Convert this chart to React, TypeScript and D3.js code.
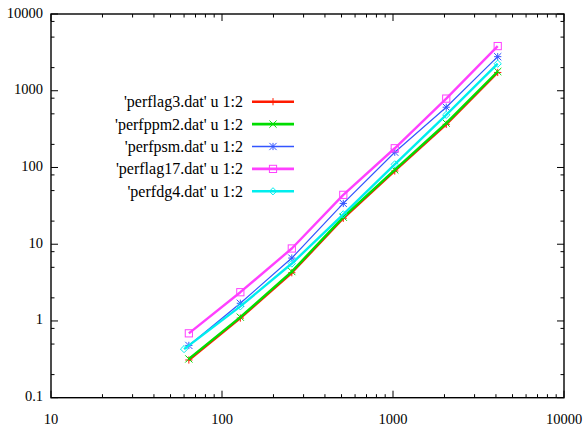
import React from "react";
import * as d3 from "d3";

const xValues = [64, 128, 256, 512, 1024, 2048, 4096];
const xValuesDg4 = [60, 128, 256, 512, 1024, 2048, 4096];
const perflag3 = [0.31, 1.09, 4.25, 21.8, 90, 365, 1730];
const perfppm2 = [0.32, 1.12, 4.4, 22.5, 93, 378, 1780];
const perfpsm = [0.48, 1.7, 6.6, 34, 158, 610, 2780];
const perflag17 = [0.69, 2.37, 8.8, 44, 178, 790, 3820];
const perfdg4 = [0.43, 1.55, 5.6, 24.5, 110, 485, 2250];

const seriesNames = [
  "'perflag3.dat' u 1:2",
  "'perfppm2.dat' u 1:2",
  "'perfpsm.dat' u 1:2",
  "'perflag17.dat' u 1:2",
  "'perfdg4.dat' u 1:2",
];

const xTickValues = [10, 100, 1000, 10000];
const yTickValues = [0.1, 1, 10, 100, 1000, 10000];
const xMinorMult = [2, 3, 4, 5, 6, 7, 8, 9];
const yMinorMult = [2, 5, 8];

type Series = {
  name: string;
  xs: number[];
  ys: number[];
  color: string;
  width: number;
  marker: string;
};

const series: Series[] = [
  { name: seriesNames[0], xs: xValues, ys: perflag3, color: "#ff1a00", width: 2.4, marker: "plus" },
  { name: seriesNames[1], xs: xValues, ys: perfppm2, color: "#00dd00", width: 2.4, marker: "cross" },
  { name: seriesNames[2], xs: xValues, ys: perfpsm, color: "#3355ff", width: 1.2, marker: "star" },
  { name: seriesNames[3], xs: xValues, ys: perflag17, color: "#ff40ff", width: 2.4, marker: "square" },
  { name: seriesNames[4], xs: xValuesDg4, ys: perfdg4, color: "#00eeee", width: 2.4, marker: "diamond" },
];

const W = 586;
const H = 425;
const left = 51;
const right = 564;
const top = 14;
const bottom = 397.7;

function Marker({ type, x, y, color }: { type: string; x: number; y: number; color: string }) {
  const s = 3.6;
  const sw = 1;
  if (type === "plus") {
    return (
      <g stroke={color} strokeWidth={sw}>
        <line x1={x - s} y1={y} x2={x + s} y2={y} />
        <line x1={x} y1={y - s} x2={x} y2={y + s} />
      </g>
    );
  }
  if (type === "cross") {
    return (
      <g stroke={color} strokeWidth={sw}>
        <line x1={x - s} y1={y - s} x2={x + s} y2={y + s} />
        <line x1={x - s} y1={y + s} x2={x + s} y2={y - s} />
      </g>
    );
  }
  if (type === "star") {
    return (
      <g stroke={color} strokeWidth={sw}>
        <line x1={x - s} y1={y} x2={x + s} y2={y} />
        <line x1={x} y1={y - s} x2={x} y2={y + s} />
        <line x1={x - s} y1={y - s} x2={x + s} y2={y + s} />
        <line x1={x - s} y1={y + s} x2={x + s} y2={y - s} />
      </g>
    );
  }
  if (type === "square") {
    return <rect x={x - s} y={y - s} width={2 * s} height={2 * s} fill="none" stroke={color} strokeWidth={sw} />;
  }
  return (
    <path
      d={`M${x - s},${y}L${x},${y - s}L${x + s},${y}L${x},${y + s}Z`}
      fill="none"
      stroke={color}
      strokeWidth={sw}
    />
  );
}

export default function App() {
  const x = d3.scaleLog().domain([10, 10000]).range([left, right]);
  const y = d3.scaleLog().domain([0.1, 10000]).range([bottom, top]);

  const xMinor: number[] = [];
  xTickValues.slice(0, -1).forEach((d) => xMinorMult.forEach((m) => xMinor.push(d * m)));
  const yMinor: number[] = [];
  yTickValues.slice(0, -1).forEach((d) => yMinorMult.forEach((m) => yMinor.push(d * m)));

  const line = d3
    .line<[number, number]>()
    .x((d) => x(d[0]))
    .y((d) => y(d[1]));

  const majorLen = 7;
  const minorLen = 3.5;
  const axisColor = "#000";
  const font = "Liberation Serif";

  const legendTextX = 243;
  const legendLineX1 = 252;
  const legendLineX2 = 294;
  const legendY0 = 101.7;
  const legendDy = 22.4;

  return (
    <div style={{ position: "absolute", left: 0, top: 0 }}>
      <svg width={W} height={H} style={{ display: "block", background: "#fff" }}>
        <rect x={0} y={0} width={W} height={H} fill="#fff" />
        {/* ticks */}
        <g stroke={axisColor} strokeWidth={1}>
          {xTickValues.map((v) => (
            <g key={"xt" + v}>
              <line x1={x(v)} x2={x(v)} y1={bottom} y2={bottom - majorLen} />
              <line x1={x(v)} x2={x(v)} y1={top} y2={top + majorLen} />
            </g>
          ))}
          {xMinor.map((v) => (
            <g key={"xm" + v}>
              <line x1={x(v)} x2={x(v)} y1={bottom} y2={bottom - minorLen} />
              <line x1={x(v)} x2={x(v)} y1={top} y2={top + minorLen} />
            </g>
          ))}
          {yTickValues.map((v) => (
            <g key={"yt" + v}>
              <line x1={left} x2={left + majorLen} y1={y(v)} y2={y(v)} />
              <line x1={right} x2={right - majorLen} y1={y(v)} y2={y(v)} />
            </g>
          ))}
          {yMinor.map((v) => (
            <g key={"ym" + v}>
              <line x1={left} x2={left + minorLen} y1={y(v)} y2={y(v)} />
              <line x1={right} x2={right - minorLen} y1={y(v)} y2={y(v)} />
            </g>
          ))}
        </g>
        <rect
          x={left}
          y={top}
          width={right - left}
          height={bottom - top}
          fill="none"
          stroke={axisColor}
          strokeWidth={1.4}
        />
        {/* tick labels */}
        <g style={{ fontFamily: font }} fontSize={14.5} fill="#000">
          {yTickValues.map((v) => (
            <text key={"yl" + v} x={43} y={y(v) - 1.5} textAnchor="end" dominantBaseline="central">
              {String(v)}
            </text>
          ))}
          {xTickValues.map((v) => (
            <text key={"xl" + v} x={x(v)} y={423.5} textAnchor="middle">
              {String(v)}
            </text>
          ))}
        </g>
        {/* series */}
        {series.map((s) => {
          const pts: [number, number][] = s.xs.map((xv, i) => [xv, s.ys[i]]);
          return (
            <g key={s.name}>
              <path d={line(pts) || ""} fill="none" stroke={s.color} strokeWidth={s.width} strokeLinejoin="round" />
              {pts.map((p, i) => (
                <Marker key={i} type={s.marker} x={x(p[0])} y={y(p[1])} color={s.color} />
              ))}
            </g>
          );
        })}
        {/* legend */}
        {series.map((s, i) => {
          const ly = legendY0 + i * legendDy;
          return (
            <g key={"lg" + s.name}>
              <text
                x={legendTextX}
                y={ly}
                textAnchor="end"
                dominantBaseline="central"
                style={{ fontFamily: font }}
                fontSize={16}
                fill="#000"
              >
                {s.name}
              </text>
              <line
                x1={legendLineX1}
                x2={legendLineX2}
                y1={ly}
                y2={ly}
                stroke={s.color}
                strokeWidth={s.width === 1.2 ? 1.6 : 2.6}
              />
              <Marker type={s.marker} x={(legendLineX1 + legendLineX2) / 2} y={ly} color={s.color} />
            </g>
          );
        })}
      </svg>
    </div>
  );
}
